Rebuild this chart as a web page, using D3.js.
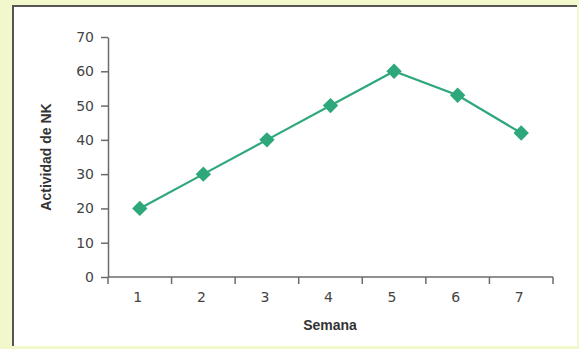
<!DOCTYPE html>
<html>
<head>
<meta charset="utf-8">
<script src="https://cdn.jsdelivr.net/npm/d3@7"></script>
<style>
  body { margin: 0; background: #f2f8cc; }
  svg { display: block; }
</style>
</head>
<body>
<svg></svg>
<script>
var semanas = [1, 2, 3, 4, 5, 6, 7];
var actividad = [20, 30, 40, 50, 60, 53, 42];
var yTicks = [0, 10, 20, 30, 40, 50, 60, 70];

function init() {
    var w = 579;
    var h = 349;

    var svg = d3.select("svg")
                .attr("width", w)
                .attr("height", h);

    // light yellow page with white panel
    svg.append("rect")
        .attr("width", w).attr("height", h)
        .attr("fill", "#f2f8cc");
    svg.append("rect")
        .attr("x", 12).attr("y", 5)
        .attr("width", 565).attr("height", 341)
        .attr("fill", "#ffffff");
    svg.append("path")
        .attr("d", "M13,346V6H577")
        .attr("fill", "none")
        .attr("stroke", "#555")
        .attr("stroke-width", 2);

    var left = 108, right = 553, top = 37, bottom = 277;

    var x = d3.scaleBand()
              .domain(semanas)
              .range([left, right]);

    var y = d3.scaleLinear()
              .domain([0, 70])
              .range([bottom, top]);

    var axisColor = "#6b6b6b";
    var tickFont = "DejaVu Sans, sans-serif";

    // x axis: ticks at band edges, labels at band centres
    var xAxis = svg.append("g")
                   .attr("transform", "translate(0," + bottom + ")");
    xAxis.append("line")
        .attr("x1", left).attr("x2", right)
        .attr("stroke", axisColor).attr("stroke-width", 1.5);
    var edges = semanas.map(function(d) { return x(d); }).concat([right]);
    xAxis.selectAll("line.tick")
        .data(edges)
        .enter()
        .append("line")
        .attr("class", "tick")
        .attr("x1", function(d) { return d; })
        .attr("x2", function(d) { return d; })
        .attr("y1", 0).attr("y2", 7)
        .attr("stroke", axisColor).attr("stroke-width", 1.5);
    xAxis.selectAll("text")
        .data(semanas)
        .enter()
        .append("text")
        .attr("x", function(d) { return x(d) + x.bandwidth() / 2 - 2; })
        .attr("y", 25)
        .attr("text-anchor", "middle")
        .style("font-family", tickFont)
        .style("font-size", "14px")
        .attr("fill", "#444")
        .text(function(d) { return d; });

    // y axis
    var yAxis = d3.axisLeft(y)
                  .tickValues(yTicks)
                  .tickSize(7)
                  .tickSizeOuter(0)
                  .tickPadding(7);
    var gy = svg.append("g")
                .attr("transform", "translate(" + left + ",0)")
                .call(yAxis);
    gy.select(".domain").attr("stroke", axisColor).attr("stroke-width", 1.5);
    gy.selectAll(".tick line").attr("stroke", axisColor).attr("stroke-width", 1.5);
    gy.selectAll(".tick text")
        .style("font-family", tickFont)
        .style("font-size", "14px")
        .attr("fill", "#444");

    // axis titles
    svg.append("text")
        .attr("x", 330).attr("y", 330)
        .attr("text-anchor", "middle")
        .style("font-family", "Liberation Sans Narrow, Liberation Sans, sans-serif")
        .style("font-size", "14px")
        .style("font-weight", "bold")
        .attr("fill", "#333")
        .text("Semana");
    svg.append("text")
        .attr("transform", "translate(51,157) rotate(-90)")
        .attr("text-anchor", "middle")
        .style("font-family", "Liberation Sans Narrow, Liberation Sans, sans-serif")
        .style("font-size", "14px")
        .style("font-weight", "bold")
        .attr("fill", "#333")
        .text("Actividad de NK");

    // line and diamond markers
    var green = "#2ea87a";
    var line = d3.line()
                 .x(function(d, i) { return x(semanas[i]) + x.bandwidth() / 2; })
                 .y(function(d) { return y(d); });

    svg.append("path")
        .datum(actividad)
        .attr("d", line)
        .attr("fill", "none")
        .attr("stroke", green)
        .attr("stroke-width", 2.2);

    var diamond = d3.symbol().type(d3.symbolDiamond2).size(150);
    svg.selectAll("path.pt")
        .data(actividad)
        .enter()
        .append("path")
        .attr("class", "pt")
        .attr("d", diamond)
        .attr("transform", function(d, i) {
            return "translate(" + (x(semanas[i]) + x.bandwidth() / 2) + "," + y(d) + ")";
        })
        .attr("fill", green);
}
window.onload = init;
</script>
</body>
</html>
